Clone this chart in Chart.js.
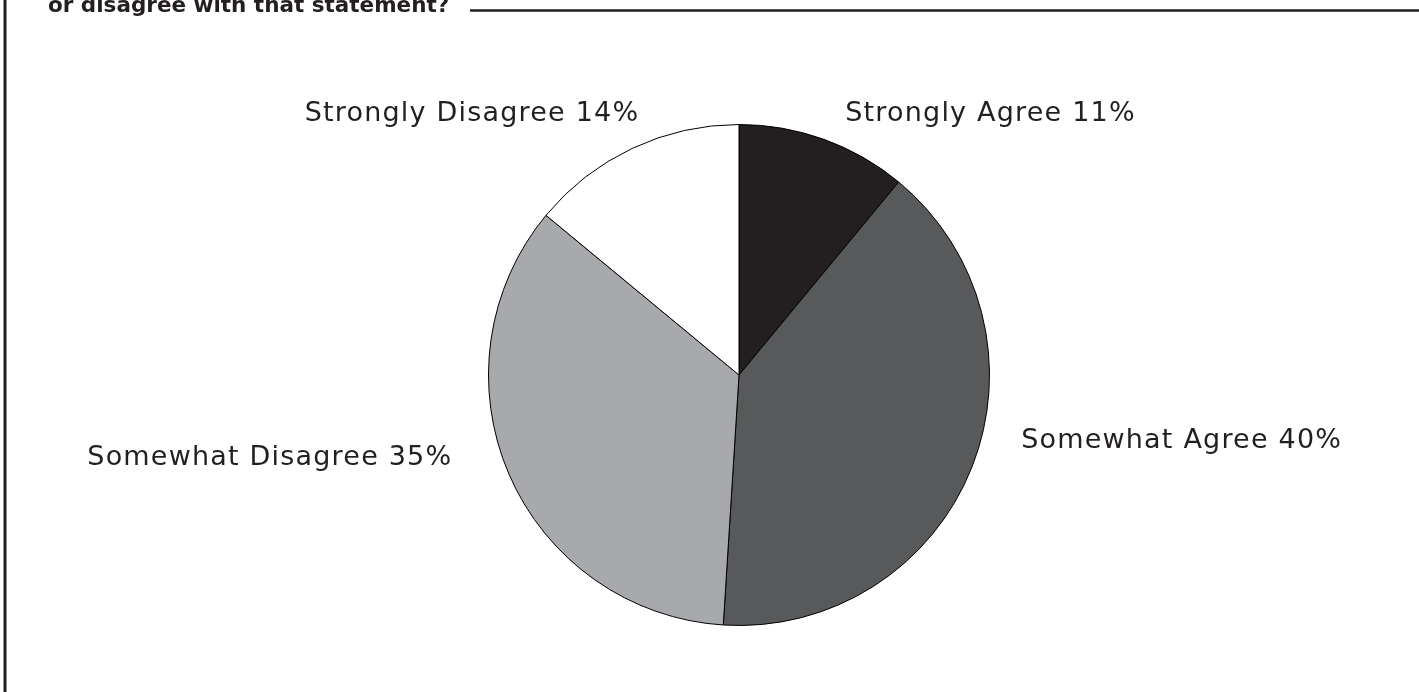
<!DOCTYPE html>
<html>
<head>
<meta charset="utf-8">
<script src="https://cdn.jsdelivr.net/npm/chart.js@4/dist/chart.umd.min.js"></script>
<style>
  html, body { margin: 0; padding: 0; background: #fff; }
  #wrap { position: relative; width: 1419px; height: 692px; }
</style>
</head>
<body>
<div id="wrap"><canvas id="pieChart" width="1419" height="692"></canvas></div>
<script>
const categories = ['Strongly Agree', 'Somewhat Agree', 'Somewhat Disagree', 'Strongly Disagree'];
const percents = [11, 40, 35, 14];
const sliceColors = ['#231f20', '#58595b', '#a7a9ac', '#ffffff'];
const titleText = 'or disagree with that statement?';

// where each label's centre sits, relative to pie centre, in units of the radius
const labelOffsets = [[1.004, -1.04], [1.767, 0.263], [-1.873, 0.331], [-1.066, -1.04]];

const ink = '#231f20';

const framePlugin = {
  id: 'frame',
  beforeDraw(chart) {
    const c = chart.ctx;
    c.save();
    c.fillStyle = '#fff';
    c.fillRect(0, 0, chart.width, chart.height);
    c.strokeStyle = ink;
    c.lineWidth = 3;
    c.beginPath();
    c.moveTo(5, 0);
    c.lineTo(5, chart.height);
    c.stroke();
    c.font = 'bold 21.5px "DejaVu Sans"';
    c.fillStyle = ink;
    c.textBaseline = 'alphabetic';
    c.fillText(titleText, 48, 12);
    c.lineWidth = 2.5;
    c.beginPath();
    c.moveTo(470, 10.5);
    c.lineTo(chart.width, 10.5);
    c.stroke();
    c.restore();
  }
};

const labelPlugin = {
  id: 'sliceLabels',
  afterDraw(chart) {
    const c = chart.ctx;
    const arcs = chart.getDatasetMeta(0).data;
    c.save();
    c.font = '27px "DejaVu Sans"';
    c.letterSpacing = '1.2px';
    c.fillStyle = ink;
    c.textAlign = 'center';
    c.textBaseline = 'middle';
    arcs.forEach((arc, i) => {
      const r = arc.outerRadius;
      const x = arc.x + labelOffsets[i][0] * r;
      const y = arc.y + labelOffsets[i][1] * r;
      c.fillText(categories[i] + ' ' + percents[i] + '%', x, y);
    });
    c.restore();
  }
};

const ctx = document.getElementById('pieChart').getContext('2d');
const myChart = new Chart(ctx, {
  type: 'pie',
  data: {
    labels: categories,
    datasets: [{
      data: percents,
      backgroundColor: sliceColors,
      borderColor: '#000',
      borderWidth: 1
    }]
  },
  options: {
    responsive: false,
    animation: false,
    layout: { padding: { top: 124, bottom: 66, left: 300, right: 241 } },
    plugins: {
      legend: { display: false },
      tooltip: { enabled: false }
    }
  },
  plugins: [framePlugin, labelPlugin]
});
</script>
</body>
</html>
